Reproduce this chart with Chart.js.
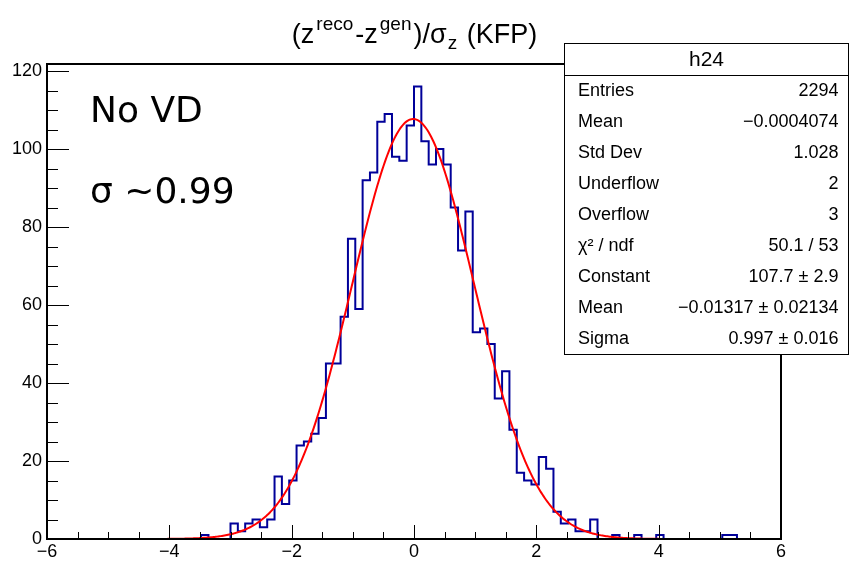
<!DOCTYPE html>
<html>
<head>
<meta charset="utf-8">
<script src="https://cdn.jsdelivr.net/npm/chart.js@4.4.1/dist/chart.umd.min.js"></script>
<style>
  html, body { margin: 0; padding: 0; background: #fff; }
</style>
</head>
<body>
<canvas id="h24" width="849" height="561"></canvas>
<script>
// h24 : (z_reco - z_gen) / sigma_z for KFP, 100 bins in [-6, 6]
var nBins = 100;
var xMin = -6;
var xMax = 6;
var binCounts = [
  0, 0, 0, 0, 0, 0, 0, 0, 0, 0,
  0, 0, 0, 0, 0, 0, 0, 0, 0, 0,
  0, 1, 0, 0, 0, 4, 2, 4, 5, 3,
  5, 16, 9, 15, 24, 25, 27, 31, 45, 45,
  57, 77, 59, 92, 94, 107, 109, 98, 97, 106,
  116, 102, 96, 100, 96, 85, 74, 84, 53, 54,
  50, 36, 43, 28, 17, 15, 14, 21, 18, 7,
  4, 5, 2, 2, 5, 0, 0, 1, 0, 0,
  1, 0, 0, 1, 0, 0, 0, 0, 0, 0,
  0, 0, 1, 1, 0, 0, 0, 0, 0, 0
];
var xTickLabels = [-6, -4, -2, 0, 2, 4, 6];
var yTickLabels = [0, 20, 40, 60, 80, 100, 120];
var yMax = 121.8;

// gaus fit, parameters as printed in the stats box
var fitConstant = 107.7;
var fitMean = -0.01317;
var fitSigma = 0.997;

var statNames = ['Entries', 'Mean', 'Std Dev', 'Underflow', 'Overflow',
                 '\u03c7\u00b2 / ndf', 'Constant', 'Mean', 'Sigma'];
var statValues = ['2294', '\u22120.0004074', '1.028', '2', '3',
                  '50.1 / 53', '107.7 \u00b1 2.9', '\u22120.01317 \u00b1 0.02134', '0.997 \u00b1 0.016'];

var FONT = '"Liberation Sans", Arial, Helvetica, sans-serif';
var NOTE_FONT = '"DejaVu Sans", sans-serif';

// histogram outline: one point per lower bin edge, plus the upper edge
var binW = (xMax - xMin) / nBins;
var histPoints = binCounts.map(function (c, k) { return { x: xMin + k * binW, y: c }; });
histPoints.push({ x: xMax, y: binCounts[nBins - 1] });

var fitPoints = [];
for (var i = 0; i <= 600; i++) {
  var xv = xMin + i * (xMax - xMin) / 600;
  var d = (xv - fitMean) / fitSigma;
  fitPoints.push({ x: xv, y: fitConstant * Math.exp(-0.5 * d * d) });
}

function fmt(v) {
  return v < 0 ? '\u2212' + Math.abs(v) : String(v);
}

var rootDecor = {
  id: 'rootDecor',
  afterDatasetsDraw: function (chart) {
    var ctx = chart.ctx, a = chart.chartArea;
    var xs = chart.scales.x, ys = chart.scales.y;
    ctx.save();
    // inward ticks, ROOT style
    ctx.strokeStyle = '#000';
    ctx.lineWidth = 1;
    ctx.beginPath();
    for (var v = xMin; v <= xMax + 1e-9; v += 0.5) {
      var px = Math.round(xs.getPixelForValue(v)) + 0.5;
      var len = Math.abs(v % 2) < 1e-9 ? 14 : 7;
      ctx.moveTo(px, a.bottom);
      ctx.lineTo(px, a.bottom - len);
    }
    for (var w = 0; w <= yMax; w += 5) {
      var py = Math.round(ys.getPixelForValue(w)) + 0.5;
      var ylen = w % 20 === 0 ? 22 : 11;
      ctx.moveTo(a.left, py);
      ctx.lineTo(a.left + ylen, py);
    }
    ctx.stroke();
    // frame
    ctx.lineWidth = 2;
    ctx.strokeRect(a.left, a.top, a.right - a.left, a.bottom - a.top);
    ctx.restore();
  },
  afterDraw: function (chart) {
    var ctx = chart.ctx;
    ctx.save();
    ctx.fillStyle = '#000';
    ctx.textBaseline = 'alphabetic';

    // title with super/subscripts (gap = extra space after the piece)
    var segs = [
      { t: '(z', f: 27, dy: 0, gap: 2 },
      { t: 'reco', f: 19, dy: -13, gap: 2 },
      { t: '-z', f: 27, dy: 0, gap: 2 },
      { t: 'gen', f: 19, dy: -13, gap: 2 },
      { t: ')/\u03c3', f: 27, dy: 0, gap: 1 },
      { t: 'z', f: 19, dy: 6, gap: 2 },
      { t: ' (KFP)', f: 27, dy: 0, gap: 0 }
    ];
    var total = 0;
    segs.forEach(function (s) {
      ctx.font = s.f + 'px ' + FONT;
      s.w = ctx.measureText(s.t).width + s.gap;
      total += s.w;
    });
    var tx = 414.5 - total / 2;
    segs.forEach(function (s) {
      ctx.font = s.f + 'px ' + FONT;
      ctx.textAlign = 'left';
      ctx.fillText(s.t, tx, 43 + s.dy);
      tx += s.w;
    });

    // annotations
    ctx.font = '36px ' + NOTE_FONT;
    ctx.fillText('No VD', 90, 122);
    ctx.fillText('\u03c3 ~0.99', 90, 202.5);

    // stats box
    var bx = 564.5, by = 43.5, bw = 284, bh = 311;
    ctx.fillStyle = '#fff';
    ctx.fillRect(bx, by, bw, bh);
    ctx.strokeStyle = '#000';
    ctx.lineWidth = 1;
    ctx.strokeRect(bx, by, bw, bh);
    ctx.beginPath();
    ctx.moveTo(bx, 75.5);
    ctx.lineTo(bx + bw, 75.5);
    ctx.stroke();
    ctx.fillStyle = '#000';
    ctx.textBaseline = 'middle';
    ctx.textAlign = 'center';
    ctx.font = '21px ' + FONT;
    ctx.fillText('h24', bx + bw / 2, 60);
    ctx.font = '18px ' + FONT;
    var rowH = (by + bh - 75.5) / statNames.length;
    for (var r = 0; r < statNames.length; r++) {
      var cy = 75.5 + rowH * (r + 0.5);
      ctx.textAlign = 'left';
      ctx.fillText(statNames[r], 578, cy);
      ctx.textAlign = 'right';
      ctx.fillText(statValues[r], 838.5, cy);
    }
    ctx.restore();
  }
};

new Chart(document.getElementById('h24'), {
  type: 'line',
  data: {
    datasets: [{
      label: 'gaus fit',
      data: fitPoints,
      borderColor: '#ff0000',
      borderWidth: 2,
      pointRadius: 0,
      fill: false
    }, {
      label: 'h24',
      data: histPoints,
      borderColor: '#000099',
      borderWidth: 2,
      pointRadius: 0,
      stepped: 'before',
      fill: false
    }]
  },
  options: {
    responsive: false,
    animation: false,
    layout: { padding: { top: 64, right: 68, left: 0, bottom: 0 } },
    plugins: {
      legend: { display: false },
      tooltip: { enabled: false },
      title: { display: false }
    },
    scales: {
      x: {
        type: 'linear',
        min: xMin,
        max: xMax,
        grid: { display: false, drawTicks: false },
        border: { display: false },
        afterBuildTicks: function (s) { s.ticks = xTickLabels.map(function (v) { return { value: v }; }); },
        afterFit: function (s) { s.height = 22; },
        ticks: {
          padding: 2,
          maxRotation: 0,
          autoSkip: false,
          color: '#000',
          font: { family: FONT, size: 18 },
          callback: function (v) { return fmt(v); }
        }
      },
      y: {
        type: 'linear',
        min: 0,
        max: yMax,
        grid: { display: false, drawTicks: false },
        border: { display: false },
        afterBuildTicks: function (s) { s.ticks = yTickLabels.map(function (v) { return { value: v }; }); },
        afterFit: function (s) { s.width = 47; },
        ticks: {
          padding: 5,
          autoSkip: false,
          color: '#000',
          font: { family: FONT, size: 18 },
          callback: function (v) { return fmt(v); }
        }
      }
    }
  },
  plugins: [rootDecor]
});
</script>
</body>
</html>
